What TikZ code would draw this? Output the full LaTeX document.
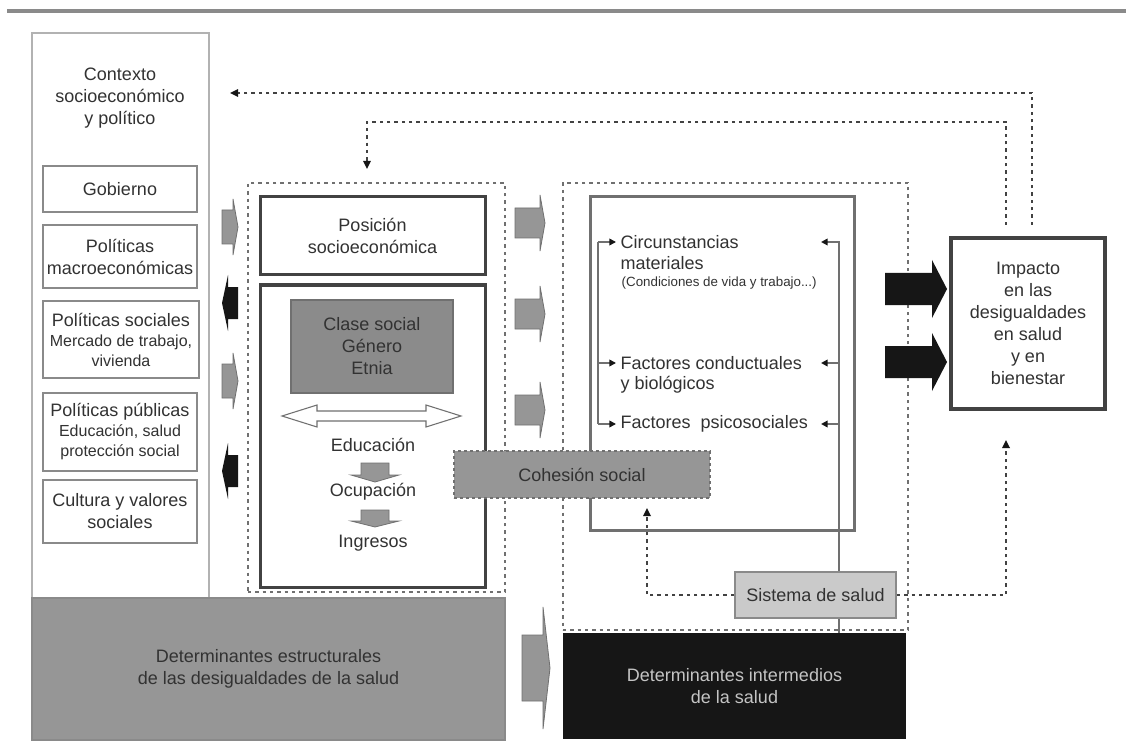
\documentclass[tikz,border=0pt]{standalone}
\usepackage{fontspec}
\setmainfont{Liberation Sans}
\usetikzlibrary{arrows.meta}
\definecolor{figT}{RGB}{50,50,50}
\definecolor{figL}{RGB}{138,138,138}
\definecolor{figM}{RGB}{112,112,112}
\definecolor{figC}{RGB}{178,178,178}
\definecolor{figD}{RGB}{66,66,66}
\definecolor{figF}{RGB}{150,150,150}
\definecolor{figS}{RGB}{202,202,202}
\definecolor{figK}{RGB}{22,22,22}
\newcommand{\subfont}{\fontsize{12}{14.5}\selectfont}
% block arrows: x0 (tail), x1 (head base), x2 (tip), y, half shaft, half head
\newcommand{\hblock}[6]{(#1,{#4-#5}) -- (#2,{#4-#5}) -- (#2,{#4-#6}) -- (#3,#4) -- (#2,{#4+#6}) -- (#2,{#4+#5}) -- (#1,{#4+#5}) -- cycle}
\newcommand{\vblock}[6]{({#1-#5},#2) -- ({#1-#5},#3) -- ({#1-#6},#3) -- (#1,#4) -- ({#1+#6},#3) -- ({#1+#5},#3) -- ({#1+#5},#2) -- cycle}

\begin{document}
\begin{tikzpicture}[x=0.75pt,y=-0.75pt,>={Triangle[length=6pt,width=5.5pt,color=figK]},
  font=\fontsize{13.5}{16.5}\selectfont,
  wh/.style 2 args={minimum width=#1*0.75pt,minimum height=#2*0.75pt,inner sep=0pt},
  frame/.style={draw=figL,line width=1.5pt,text=figT,align=center},
  heavy/.style={draw=figD,line width=2.25pt},
  dotframe/.style={draw=figM,line width=1.5pt,dash pattern=on 2.5pt off 3pt},
  fb/.style={figD,line width=1.5pt,dash pattern=on 2.5pt off 3pt},
  link/.style={figM,line width=1.2pt,>={Triangle[length=5pt,width=5pt,color=figK]}},
  garrow/.style={fill=figF,draw=figM,line width=0.6pt}]
\fill[white] (0,0) rectangle (1126,755);
\useasboundingbox (0,0) rectangle (1126,755);
\draw[figL,line width=3pt] (7,11) -- (1126,11);

% contexto
\node[wh={177}{565},draw=figC,line width=1.5pt] (ctx) at (120.5,315.5) {};
\node[text=figT,align=center] (ctxt) at (120,98) {Contexto\\socioeconómico\\y político};
\node[frame,wh={154}{46}] (gob) at (120,189) {Gobierno};
\node[frame,wh={154}{63}] (macro) at (120,256.5) {Políticas\\macroeconómicas};
\node[frame,wh={156}{77}] (psoc) at (121,339.5) {Políticas sociales\\[-1.5pt]{\subfont Mercado de trabajo,}\\[-1.5pt]{\subfont vivienda}};
\node[frame,wh={154}{78}] (ppub) at (120,432) {Políticas públicas\\[-1.5pt]{\subfont Educación, salud}\\[-1.5pt]{\subfont protección social}};
\node[frame,wh={154}{63}] (cult) at (120,511.5) {Cultura y valores\\sociales};

% estructurales
\node[dotframe,wh={257}{409}] (midg) at (376.5,387.5) {};
\node[wh={473}{142},fill=figF,draw=figL,line width=1pt,text=figT,align=center] (estr) at (268.5,669) {Determinantes estructurales\\de las desigualdades de la salud};
\node[heavy,wh={225}{78},text=figT,align=center] (pos) at (372.5,236) {Posición\\socioeconómica};
\node[heavy,wh={225}{302}] (low) at (372.5,436) {};
\node[wh={162}{93},fill=figF!93!black,draw=figM,line width=1pt,text=figT,align=center] (clase) at (372,346.5) {Clase social\\Género\\Etnia};
\filldraw[fill=white,draw=figM,line width=0.8pt] (282,416) -- (317,405) -- (317,411) -- (426,411) -- (426,405) -- (461,416) -- (426,427) -- (426,421) -- (317,421) -- (317,427) -- cycle;
\node[text=figT] (edu) at (373,445) {Educación};
\node[text=figT] (ocu) at (373,492) {Ocupación};
\node[text=figT] (ing) at (373,543) {Ingresos};
\filldraw[garrow] \vblock{375}{463}{475}{482}{14}{24};
\filldraw[garrow] \vblock{375}{510}{521}{527}{14}{24};

% flechas laterales
\foreach \y in {227,381} \filldraw[garrow] \hblock{222}{233}{238}{\y}{17}{28};
\foreach \y in {303,471} \fill[figK] \hblock{238}{228}{222}{\y}{16}{28};
\foreach \y in {223,314,410} \filldraw[garrow] \hblock{515}{540}{545}{\y}{15}{28};
\filldraw[garrow] \hblock{522}{543}{550}{668}{33}{61};

% intermedios
\node[dotframe,wh={345}{447}] (intg) at (735.5,406.5) {};
\node[draw=figM,line width=2.25pt,wh={264}{333}] (inter) at (722,363.5) {};
\node[wh={343}{106},fill=figK,text=figS!90!figL,align=center] (dint) at (734.5,686) {Determinantes intermedios\\de la salud};
\node[anchor=west,text=figT] (circ) at (616,242) {Circunstancias};
\node[anchor=west,text=figT] (circb) at (616,263) {materiales};
\node[anchor=west,text=figT,font=\fontsize{10}{12}\selectfont] (circc) at (617,283) {(Condiciones de vida y trabajo...)};
\node[anchor=west,text=figT] (fcond) at (616,363) {Factores conductuales};
\node[anchor=west,text=figT] (fbio) at (616,385) {y biológicos};
\node[anchor=west,text=figT] (fpsi) at (616,424) {Factores\ \ psicosociales};
\coordinate (bl) at (598,242);
\coordinate (br) at (839,242);
\coordinate (brt) at (821,242);
\draw[link] (circ.west -| bl) -- (fpsi.west -| bl);
\foreach \n in {circ,fcond,fpsi} \draw[link,->] (\n.west -| bl) -- (\n.west);
\draw[link,->] (dint.north -| br) -- (br) -- (brt);
\foreach \n in {fcond,fpsi} \draw[link,->] (\n.west -| br) -- (\n.west -| brt);
\node[wh={161}{46},fill=figS,draw=figL,line width=1.5pt,text=figT] (sist) at (815.5,595) {Sistema de salud};
\node[wh={256}{47},fill=figF,draw=figM,line width=1.2pt,dash pattern=on 2.5pt off 2pt,text=figT] (coh) at (582,474.5) {Cohesión social};

% impacto
\node[draw=figD,line width=3pt,wh={154}{171},text=figT,align=center] (imp) at (1028,323.5) {Impacto\\en las\\desigualdades\\en salud\\y en\\bienestar};
\foreach \y in {289,362} \fill[figK] \hblock{885}{932}{947}{\y}{16}{29};

% retroalimentacion
\coordinate (xA) at (1032,93);
\coordinate (xB) at (1006,122);
\coordinate (xB2) at (367,122);
\coordinate (cohin) at (647,508);
\coordinate (impin) at (1006,440);
\draw[fb,->,shorten <=8.25pt,shorten >=15pt] (imp.north -| xA) -- (xA) -- (ctx.east |- xA);
\draw[fb,->,shorten <=8.25pt,shorten >=9.75pt] (imp.north -| xB) -- (xB) -- (xB2) -- (midg.north -| xB2);
\draw[fb,->] (sist.west) -| (cohin);
\draw[fb,->] (sist.east) -| (impin);
\end{tikzpicture}
\end{document}
